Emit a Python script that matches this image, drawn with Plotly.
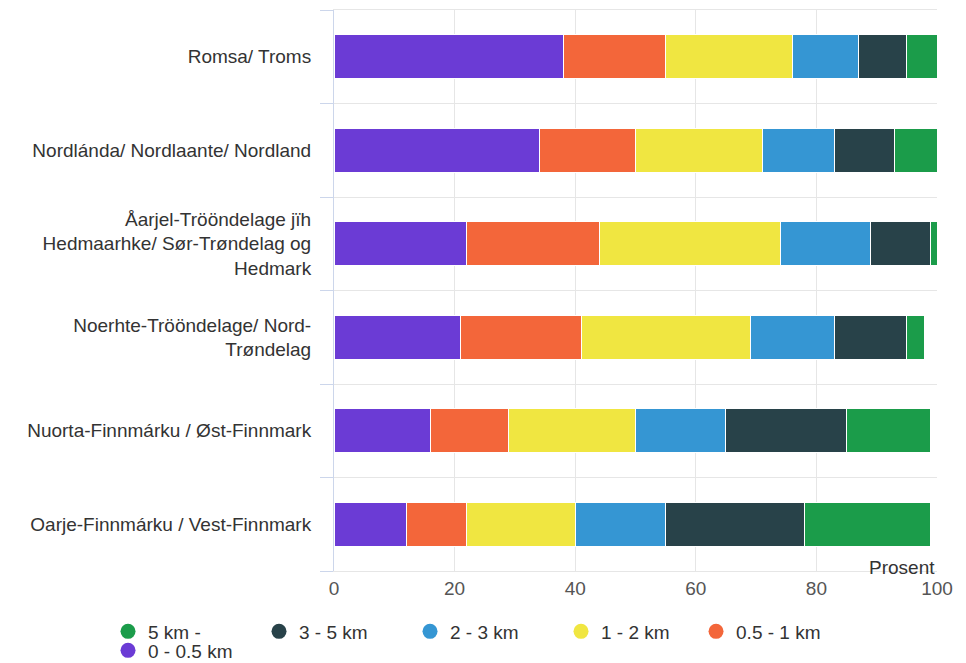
import plotly.graph_objects as go

categories = [
    "Romsa/ Troms",
    "Nordlánda/ Nordlaante/ Nordland",
    "Åarjel-Trööndelage jïh<br>Hedmaarhke/ Sør-Trøndelag og<br>Hedmark",
    "Noerhte-Trööndelage/ Nord-<br>Trøndelag",
    "Nuorta-Finnmárku / Øst-Finnmark",
    "Oarje-Finnmárku / Vest-Finnmark",
]

series_names = ["0 - 0.5 km", "0.5 - 1 km", "1 - 2 km", "2 - 3 km", "3 - 5 km", "5 km -"]
series_colors = ["#6B3BD5", "#F3663A", "#F0E641", "#3596D3", "#284249", "#1B9C4A"]

v_0_05 = [38, 34, 22, 21, 16, 12]
v_05_1 = [17, 16, 22, 20, 13, 10]
v_1_2 = [21, 21, 30, 28, 21, 18]
v_2_3 = [11, 12, 15, 14, 15, 15]
v_3_5 = [8, 10, 10, 12, 20, 23]
v_5 = [5, 7, 1, 3, 14, 21]
series_values = [v_0_05, v_05_1, v_1_2, v_2_3, v_3_5, v_5]

x_ticks = [0, 20, 40, 60, 80, 100]
axis_title = "Prosent"

FONT = "Liberation Sans, Arial, sans-serif"
FS = 19
ypos = list(range(len(categories)))

fig = go.Figure()
for name, color, vals in zip(series_names, series_colors, series_values):
    fig.add_trace(go.Bar(
        x=vals, y=ypos, orientation="h", name=name,
        marker=dict(color=color, line=dict(color="white", width=1)),
        width=0.47, showlegend=False, legendgroup=name,
        hovertemplate="%{x}<extra>" + name + "</extra>",
    ))

# legend entries with round markers, laid out in two rows like the original
legend_of = ["legend3", "legend2", "legend", "legend", "legend", "legend"]
for name, color, lg in zip(series_names, series_colors, legend_of):
    fig.add_trace(go.Scatter(
        x=[None], y=[None], mode="markers", name=name, legendgroup=name,
        marker=dict(color=color, size=15, symbol="circle"),
        legend=lg,
    ))

legend_common = dict(
    orientation="h", traceorder="reversed",
    xref="container", yref="container",
    xanchor="left", yanchor="top",
    entrywidth=106, entrywidthmode="pixels",
    font=dict(family=FONT, size=FS, color="#333333"),
    itemwidth=30, tracegroupgap=0, bgcolor="rgba(0,0,0,0)",
)

fig.update_layout(
    width=958, height=655,
    barmode="stack",
    paper_bgcolor="white", plot_bgcolor="white",
    margin=dict(l=326, r=29, t=2, b=92),
    font=dict(family=FONT, size=FS, color="#333333"),
    showlegend=True,
    legend=dict(x=0.1044, y=0.0771, **legend_common),
    legend2=dict(x=0.7182, y=0.0771, **legend_common),
    legend3=dict(x=0.1044, y=0.0481, **legend_common),
    xaxis=dict(
        range=[0, 100], tickvals=x_ticks, ticktext=[str(t) for t in x_ticks],
        showgrid=True, gridcolor="#e6e6e6", gridwidth=1,
        zeroline=False, showline=True, linecolor="#e6e6e6", mirror=True,
        ticks="", tickfont=dict(family=FONT, size=FS, color="#555555"),
    ),
    yaxis=dict(
        range=[len(categories) - 0.5, -0.5],
        tickvals=ypos, ticktext=categories,
        showgrid=False, zeroline=False,
        showline=True, linecolor="#ccd6eb", linewidth=1,
        ticks="outside", ticklen=18, tickcolor="rgba(0,0,0,0)",
        tickfont=dict(family=FONT, size=FS, color="#333333"),
        minor=dict(tick0=0.5, dtick=1, showgrid=True, gridcolor="#e6e6e6",
                   ticks="outside", ticklen=13, tickcolor="#ccd6eb"),
    ),
    annotations=[dict(
        text=axis_title, xref="paper", yref="paper", x=1, y=0,
        xanchor="right", yanchor="middle", yshift=4, showarrow=False,
        font=dict(family=FONT, size=FS, color="#333333"),
    )],
)

fig.write_html("out.html")
